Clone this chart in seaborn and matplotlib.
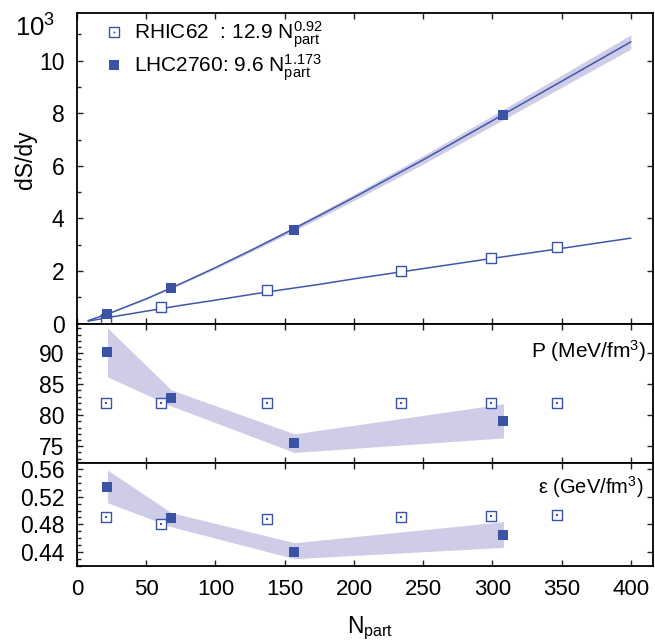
import matplotlib
matplotlib.use("Agg")
import matplotlib.pyplot as plt
from matplotlib.lines import Line2D
from matplotlib.ticker import MultipleLocator, FormatStrFormatter
import seaborn as sns

# --- data ---
rhic_npart = [21, 61, 137, 234, 299, 347]
lhc_npart = [22, 68, 157, 308]

# dS/dy in units of 10^3
rhic_dsdy = [0.19, 0.62, 1.26, 2.00, 2.50, 2.90]
lhc_dsdy = [0.38, 1.37, 3.56, 7.92]

# fit curves (12.9 N^0.92 and 9.6 N^1.173)
fit_npart = [8, 25, 50, 75, 100, 125, 150, 175, 200, 250, 300, 350, 400]
rhic_fit = [0.09, 0.25, 0.47, 0.69, 0.89, 1.10, 1.30, 1.49, 1.70, 2.09, 2.48, 2.86, 3.25]
lhc_fit = [0.11, 0.42, 0.94, 1.52, 2.13, 2.77, 3.43, 4.11, 4.80, 6.23, 7.72, 9.22, 10.72]
lhc_fit_lo = [0.11, 0.41, 0.92, 1.49, 2.08, 2.71, 3.35, 4.01, 4.68, 6.07, 7.53, 8.99, 10.45]
lhc_fit_hi = [0.11, 0.43, 0.96, 1.55, 2.18, 2.83, 3.51, 4.21, 4.92, 6.39, 7.91, 9.45, 10.99]

# pressure P (MeV/fm^3)
rhic_P = [82.0, 82.0, 82.0, 82.0, 82.0, 82.0]
lhc_P = [90.2, 82.8, 75.5, 79.0]
lhc_P_lo = [86.2, 81.5, 74.0, 76.35]
lhc_P_hi = [94.1, 84.1, 77.0, 81.85]

# energy density eps (GeV/fm^3)
rhic_eps = [0.491, 0.480, 0.488, 0.490, 0.492, 0.4935]
lhc_eps = [0.5345, 0.4887, 0.4405, 0.465]
lhc_eps_lo = [0.5113, 0.4766, 0.4304, 0.4467]
lhc_eps_hi = [0.5586, 0.4969, 0.4535, 0.4839]

blue = "#3a53a4"
line_blue = "#4157aa"
band = "#cecce7"

sns.set_theme(style="ticks")
plt.rcParams["font.family"] = ["Liberation Sans", "DejaVu Sans"]
plt.rcParams["mathtext.fontset"] = "custom"
plt.rcParams["mathtext.rm"] = "Liberation Sans"
plt.rcParams["mathtext.it"] = "Liberation Sans:italic"
plt.rcParams["mathtext.bf"] = "Liberation Sans:bold"
for key in ("text.color", "axes.labelcolor", "xtick.color", "ytick.color", "axes.edgecolor"):
    plt.rcParams[key] = "black"

fig = plt.figure(figsize=(6.55, 6.41), dpi=100)
left, width = 0.1176, 0.8794
ax1 = fig.add_axes([left, 0.4953, width, 0.4849])
ax2 = fig.add_axes([left, 0.2772, width, 0.2181])
ax3 = fig.add_axes([left, 0.1170, width, 0.1602])


def open_squares(ax, x, y, s, dot=True):
    sns.scatterplot(x=x, y=y, ax=ax, marker="s", s=s, facecolor="white",
                    edgecolor=blue, linewidth=1.0, zorder=4)
    if dot:
        sns.scatterplot(x=x, y=y, ax=ax, marker="s", s=1.5, color=blue,
                        linewidth=0, zorder=5)


def filled_squares(ax, x, y):
    sns.scatterplot(x=x, y=y, ax=ax, marker="s", s=48, color=blue,
                    linewidth=0, zorder=6)


# top panel: dS/dy
ax1.fill_between(fit_npart, lhc_fit_lo, lhc_fit_hi, color=band, lw=0, zorder=1)
sns.lineplot(x=fit_npart, y=rhic_fit, ax=ax1, color=line_blue, lw=1.1, zorder=2)
sns.lineplot(x=fit_npart, y=lhc_fit, ax=ax1, color=line_blue, lw=1.1, zorder=2)
open_squares(ax1, rhic_npart, rhic_dsdy, 60, dot=False)
filled_squares(ax1, lhc_npart, lhc_dsdy)
ax1.set_ylim(0, 11.83)
ax1.yaxis.set_major_locator(MultipleLocator(2))
ax1.yaxis.set_minor_locator(MultipleLocator(1))

h_open = Line2D([], [], marker="s", ls="", ms=7, mfc="white", mec=blue, mew=1.0)
h_dot = Line2D([], [], marker="s", ls="", ms=1.3, color=blue, mew=0)
h_fill = Line2D([], [], marker="s", ls="", ms=7, color=blue, mew=0)
labels = [r"RHIC62  : 12.9 N$_{\rm part}^{0.92}$",
          r"LHC2760: 9.6 N$_{\rm part}^{1.173}$"]
ax1.legend([(h_open, h_dot), h_fill], labels, loc="upper left",
           bbox_to_anchor=(0.035, 1.006), frameon=False, fontsize=15,
           handlelength=0.8, handletextpad=0.55, labelspacing=0.14,
           borderaxespad=0)

# middle panel: pressure
ax2.fill_between(lhc_npart, lhc_P_lo, lhc_P_hi, color=band, lw=0, zorder=1)
open_squares(ax2, rhic_npart, rhic_P, 42)
filled_squares(ax2, lhc_npart, lhc_P)
ax2.set_ylim(72.25, 94.8)
ax2.yaxis.set_major_locator(MultipleLocator(5))
ax2.yaxis.set_minor_locator(MultipleLocator(1))
ax2.text(0.988, 0.80, r"P (MeV/fm$^3$)", transform=ax2.transAxes,
         ha="right", va="center", fontsize=15)

# bottom panel: energy density
ax3.fill_between(lhc_npart, lhc_eps_lo, lhc_eps_hi, color=band, lw=0, zorder=1)
open_squares(ax3, rhic_npart, rhic_eps, 42)
filled_squares(ax3, lhc_npart, lhc_eps)
ax3.set_ylim(0.4198, 0.5682)
ax3.yaxis.set_major_locator(MultipleLocator(0.04))
ax3.yaxis.set_minor_locator(MultipleLocator(0.01))
ax3.yaxis.set_major_formatter(FormatStrFormatter("%.2f"))
ax3.text(0.983, 0.77, "\u03b5 (GeV/fm$^3$)", transform=ax3.transAxes,
         ha="right", va="center", fontsize=14.5)

for ax in (ax1, ax2, ax3):
    ax.set_xlim(0, 416)
    ax.xaxis.set_major_locator(MultipleLocator(50))
    ax.set_xlabel("")
    ax.set_ylabel("")
    for sp in ax.spines.values():
        sp.set_visible(True)
        sp.set_linewidth(1.3)
        sp.set_color("black")
    ax.tick_params(which="both", direction="in", top=True, right=True,
                   labelsize=16, pad=9, color="#222222", width=1.0)
    ax.tick_params(which="major", length=4.5)
    ax.tick_params(which="minor", length=2.8, right=False, top=False, bottom=False)
    ax.grid(False)
ax1.tick_params(labelbottom=False)
ax2.tick_params(labelbottom=False)
for lab in ax1.get_yticklabels() + ax2.get_yticklabels() + ax3.get_yticklabels():
    lab.set_fontsize(16.5)

fig.text(15 / 655, 1 - 37 / 641, r"10$^3$", fontsize=18.5, va="baseline", ha="left")
fig.text(25 / 655, 1 - 160 / 641, "dS/dy", fontsize=16.5, rotation=90,
         ha="center", va="center")
fig.text(370 / 655, 1 - 633 / 641, r"N$_{\rm part}$", fontsize=16.5,
         ha="center", va="baseline")

fig.savefig("out.png", dpi=100)
